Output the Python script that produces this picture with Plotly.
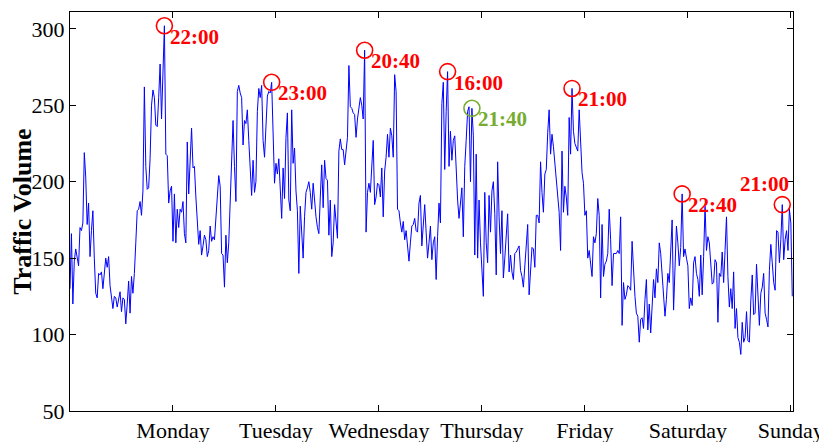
import plotly.graph_objects as go

# 20-minute traffic volume samples, Monday 00:00 -> Sunday 24:00
volume = [
    130, 166, 120, 148, 156, 151, 145, 170, 168, 173, 219, 203, 172, 186, 151, 168, 181, 150, 127, 124,
    140, 139, 141, 130, 142, 150, 144, 151, 132, 125, 117, 125, 124, 118, 122, 128, 115, 124, 123, 107,
    120, 135, 114, 138, 127, 140, 160, 181, 182, 187, 178, 194, 262, 210, 195, 196, 215,
    250, 260, 255, 237, 236, 255, 277, 241, 270, 302, 218, 217, 186, 194, 197, 161, 192, 160, 182, 170,
    182, 180, 187, 166, 160, 226, 192, 215, 235, 209, 210, 190, 171, 159, 168, 152, 158, 165, 162, 151,
    155, 171, 161, 164, 162, 175, 186, 204, 197, 153, 152, 131, 165, 147, 160, 185, 220,
    240, 210, 187, 259, 263, 258, 255, 224, 240, 238, 247, 227, 205, 191, 214, 193, 200, 246, 261, 255,
    263, 227, 216, 233, 256, 259, 258, 265, 233, 199, 212, 205, 215, 192, 176, 209, 189, 229, 245, 188,
    181, 247, 212, 222, 194, 181, 140, 184, 166, 150, 177, 193, 196, 200, 193, 182, 199,
    185, 177, 170, 166, 190, 211, 183, 214, 202, 201, 165, 188, 151, 160, 185, 173, 163, 220, 228, 221,
    221, 211, 220, 229, 276, 249, 248, 245, 244, 229, 241, 247, 255, 250, 241, 286, 167, 193, 199, 193,
    208, 227, 185, 190, 199, 198, 190, 209, 177, 207, 216, 231, 216, 235, 230, 216, 270,
    259, 182, 181, 173, 167, 174, 162, 168, 155, 148, 160, 171, 172, 176, 168, 167, 186, 191, 158, 171,
    185, 167, 150, 160, 171, 149, 160, 164, 136, 164, 186, 173, 251, 265, 208, 246, 272, 210, 233, 214,
    227, 230, 206, 188, 176, 186, 196, 164, 210, 227, 246, 249, 200, 248, 230, 152, 218, 150,
    188, 160, 145, 125, 193, 160, 147, 191, 167, 194, 200, 179, 139, 213, 177, 153, 181, 137, 150, 162,
    179, 141, 152, 141, 136, 153, 154, 156, 158, 142, 138, 131, 145, 160, 172, 126, 141, 157, 156, 144,
    178, 178, 173, 213, 193, 180, 205, 208, 232, 247, 218, 231, 223, 212, 200, 191, 180,
    155, 220, 180, 197, 190, 178, 242, 218, 261, 233, 225, 222, 220, 247, 225, 206, 199, 178, 181, 150,
    155, 146, 138, 164, 160, 166, 189, 178, 124, 172, 138, 146, 148, 153, 182, 162, 132, 153, 153, 153,
    155, 153, 177, 106, 134, 123, 126, 132, 131, 129, 161, 140, 125, 114, 112, 95, 110,
    111, 104, 123, 136, 103, 120, 101, 122, 136, 124, 143, 134, 160, 153, 140, 125, 112, 123, 140, 134,
    154, 175, 116, 149, 171, 160, 145, 157, 192, 151, 156, 150, 145, 117, 124, 119, 147, 151, 140, 136,
    125, 152, 126, 151, 184, 155, 164, 160, 145, 133, 134, 149, 147, 108, 140, 138, 154, 134,
    155, 177, 138, 118, 130, 117, 141, 104, 117, 98, 95, 87, 108, 95, 98, 115, 96, 95, 122, 139,
    113, 114, 146, 121, 106, 127, 131, 140, 114, 110, 105, 142, 159, 147, 134, 129, 168, 167, 147, 162,
    185, 149, 162, 168, 155, 182, 173, 125,
]

day_names = ["Monday", "Tuesday", "Wednesday", "Thursday", "Friday", "Saturday", "Sunday"]
samples_per_day = 72

peak_index = [66, 141, 206, 264, 281, 351, 428, 498]
peak_label = ["22:00", "23:00", "20:40", "16:00", "21:40", "21:00", "22:40", "21:00"]
peak_color = ["#FF0000", "#FF0000", "#FF0000", "#FF0000", "#77AC30", "#FF0000", "#FF0000", "#FF0000"]

x = list(range(len(volume)))
font_family = "Liberation Serif, Times New Roman, serif"

fig = go.Figure()
fig.add_trace(go.Scatter(x=x, y=volume, mode="lines",
                         line=dict(color="#0000FF", width=1), showlegend=False,
                         hoverinfo="skip"))
fig.add_trace(go.Scatter(x=peak_index, y=[volume[i] for i in peak_index], mode="markers",
                         marker=dict(symbol="circle-open", size=16, color=peak_color,
                                     line=dict(width=1.6)),
                         showlegend=False, cliponaxis=False))

for k, (i, lab, col) in enumerate(zip(peak_index, peak_label, peak_color)):
    last = (k == len(peak_index) - 1)
    fig.add_annotation(x=i, y=volume[i], text="<b>%s</b>" % lab, showarrow=False,
                       xanchor="right" if last else "left",
                       yanchor="bottom" if last else "middle",
                       xshift=9 if last else 4, yshift=7 if last else -11,
                       font=dict(family=font_family, size=21, color=col))

axis_common = dict(showline=True, linecolor="black", linewidth=1, mirror="ticks",
                   ticks="inside", ticklen=6, tickcolor="black", showgrid=False,
                   zeroline=False, automargin=False,
                   tickfont=dict(family=font_family, size=22, color="black"))

# the page body adds an 8px offset, so the figure is sized to fit the window
fig.update_layout(
    width=819, height=434,
    margin=dict(l=62, r=34, t=4, b=31),
    paper_bgcolor="white", plot_bgcolor="white",
    font=dict(family=font_family, color="black"),
    xaxis=dict(range=[0, 505.5],
               tickvals=[samples_per_day * (d + 1) for d in range(len(day_names))],
               ticktext=day_names, **axis_common),
    yaxis=dict(range=[50, 311], tickvals=[50, 100, 150, 200, 250, 300],
               title=dict(text="<b>Traffic Volume</b>", font=dict(family=font_family, size=26),
                          standoff=8),
               **axis_common),
)

fig.write_html("out.html")
